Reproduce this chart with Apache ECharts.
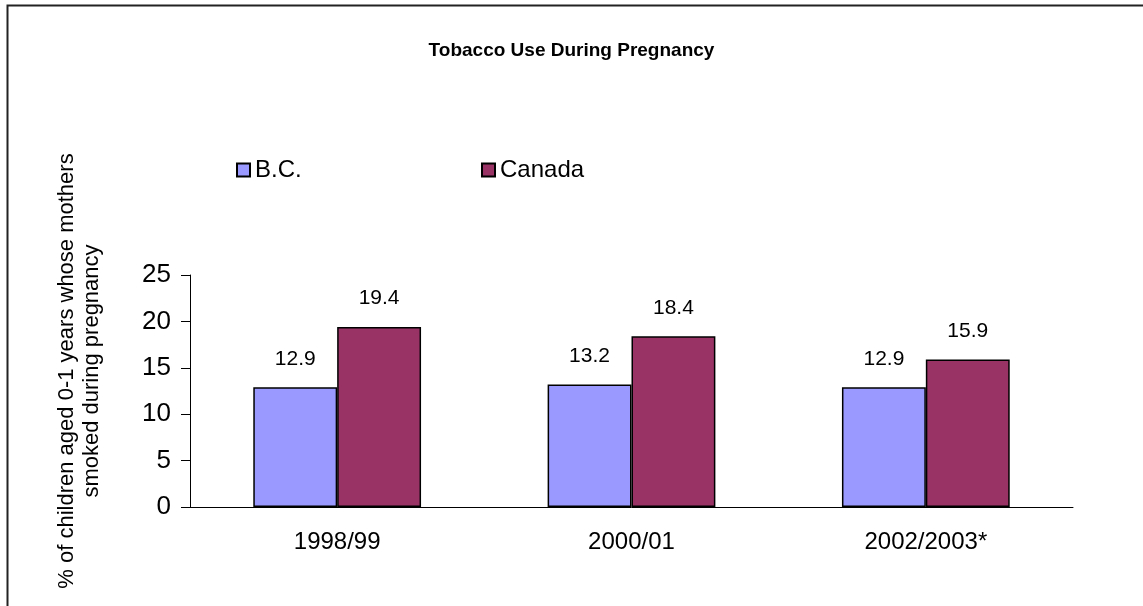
<!DOCTYPE html>
<html>
<head>
<meta charset="utf-8">
<script src="https://cdn.jsdelivr.net/npm/echarts@6/dist/echarts.min.js"></script>
<style>
  html, body { margin: 0; padding: 0; background: #fff; }
  #chart { width: 1143px; height: 606px; }
</style>
</head>
<body>
<div id="chart"></div>
<script>
  const categories = ['1998/99', '2000/01', '2002/2003*'];
  const bcValues = [12.9, 13.2, 12.9];
  const canadaValues = [19.4, 18.4, 15.9];
  const yTicks = { min: 0, max: 25, interval: 5 };

  const FONT = '"Liberation Sans", Arial, sans-serif';
  const chart = echarts.init(document.getElementById('chart'));

  const barLabel = {
    show: true,
    position: 'top',
    distance: 18,
    color: '#000',
    fontFamily: FONT,
    fontSize: 21,
    formatter: (p) => p.value.toFixed(1),
  };

  const legendBase = {
    top: 153,
    icon: 'rect',
    itemWidth: 13,
    itemHeight: 13,
    itemGap: 8,
    textStyle: { fontFamily: FONT, fontSize: 24, color: '#000' },
  };

  chart.setOption({
    animation: false,
    backgroundColor: '#fff',
    title: {
      text: 'Tobacco Use During Pregnancy',
      left: 'center',
      top: 36,
      textStyle: { fontFamily: FONT, fontSize: 19, fontWeight: 'bold', color: '#000' },
    },
    legend: [
      Object.assign({ data: ['B.C.'], left: 231 }, legendBase),
      Object.assign({ data: ['Canada'], left: 476 }, legendBase),
    ],
    grid: { left: 190, right: 70, top: 275, bottom: 99 },
    xAxis: {
      type: 'category',
      data: categories,
      axisLine: { lineStyle: { color: '#000', width: 1 } },
      axisTick: { length: 8, lineStyle: { color: '#000' } },
      axisLabel: { color: '#000', fontFamily: FONT, fontSize: 24, margin: 23 },
    },
    yAxis: {
      type: 'value',
      min: yTicks.min,
      max: yTicks.max,
      interval: yTicks.interval,
      axisLine: { show: true, lineStyle: { color: '#000', width: 1 } },
      axisTick: { show: true, length: 9, lineStyle: { color: '#000' } },
      axisLabel: { color: '#000', fontFamily: FONT, fontSize: 26, margin: 19 },
      splitLine: { show: false },
    },
    graphic: [
      {
        type: 'rect',
        silent: true,
        shape: { x: 7.5, y: 5.5, width: 1300, height: 800 },
        style: { fill: 'none', stroke: '#222', lineWidth: 2 },
      },
      {
        type: 'text',
        x: 79,
        y: 371,
        rotation: Math.PI / 2,
        style: {
          text: '% of children aged 0-1 years whose mothers\nsmoked during pregnancy',
          fontFamily: FONT,
          fontSize: 22,
          lineHeight: 25,
          fill: '#000',
          align: 'center',
          verticalAlign: 'middle',
        },
      },
    ],
    series: [
      {
        name: 'B.C.',
        type: 'bar',
        data: bcValues,
        barGap: '0%',
        barCategoryGap: '43%',
        itemStyle: { color: '#9999FF', borderColor: '#000', borderWidth: 1.5 },
        label: barLabel,
      },
      {
        name: 'Canada',
        type: 'bar',
        data: canadaValues,
        itemStyle: { color: '#993366', borderColor: '#000', borderWidth: 1.5 },
        label: barLabel,
      },
    ],
  });

  window.addEventListener('resize', () => {
    chart.resize();
  });
</script>
</body>
</html>
